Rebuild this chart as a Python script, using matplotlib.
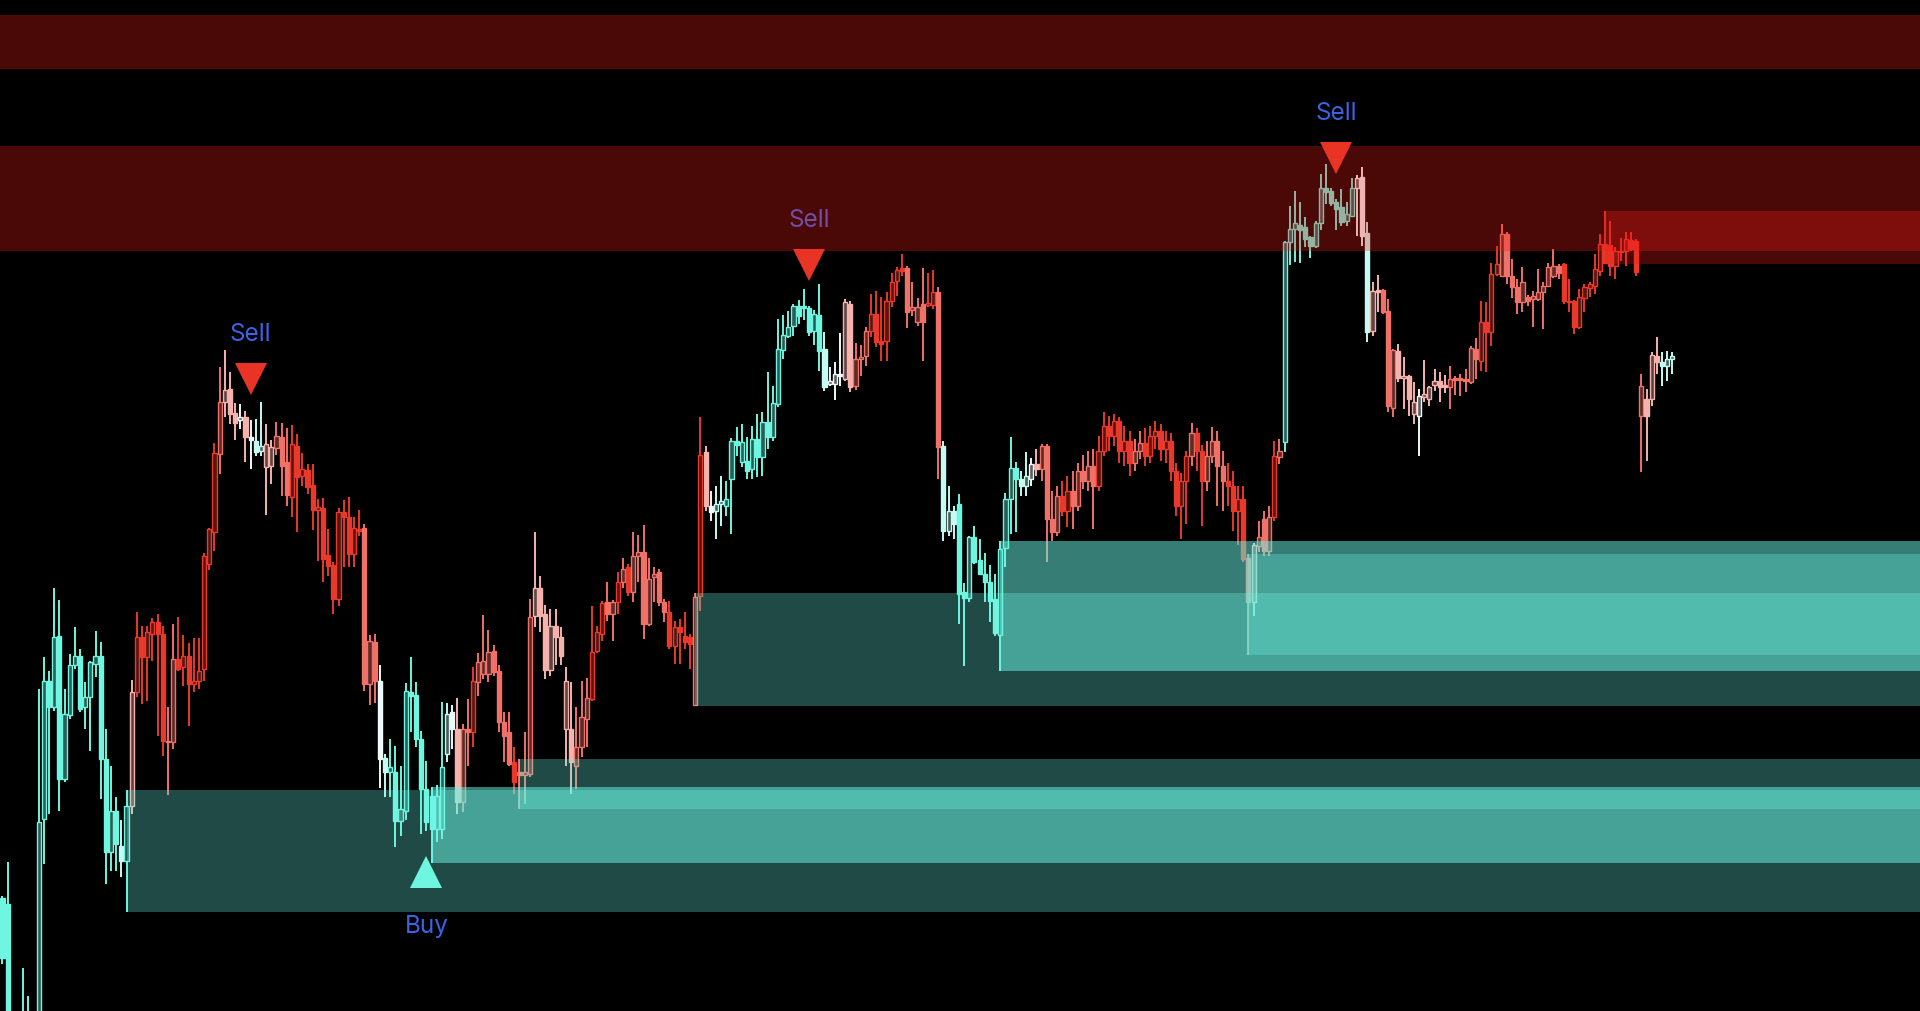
import matplotlib
matplotlib.use("Agg")
import matplotlib.pyplot as plt
from matplotlib.colors import LinearSegmentedColormap
from matplotlib.patches import Rectangle
import numpy as np

# OHLC per bar (chart points), oldest first
opens = [
    113, 107, -18, -45, -30, -5, -10, -15, 192, 330,
    304, 375, 232, 296, 346, 355, 304, 314, 347, 355,
    252, 159, 200, 165, 150, 205, 319, 374, 354, 377,
    389, 377, 270, 269, 352, 344, 355, 327, 330, 342,
    447, 479, 557, 609, 622, 598, 591, 594, 574, 570,
    560, 544, 545, 563, 574, 549, 514, 565, 535, 541,
    526, 501, 503, 456, 446, 412, 499, 494, 457, 482,
    483, 327, 369, 330, 253, 239, 239, 190, 200, 319,
    316, 272, 222, 215, 182, 182, 257, 299, 282, 209,
    282, 279, 329, 337, 337, 360, 340, 289, 279, 249,
    239, 236, 237, 395, 423, 397, 341, 385, 374, 282,
    282, 245, 264, 292, 312, 360, 377, 409, 397, 409,
    429, 444, 419, 455, 459, 387, 434, 439, 409, 399,
    365, 384, 375, 374, 306, 415, 559, 505, 500, 507,
    505, 532, 570, 549, 550, 542, 572, 554, 589, 574,
    607, 661, 675, 685, 705, 705, 703, 680, 696, 662,
    627, 627, 637, 632, 707, 625, 652, 655, 680, 697,
    670, 670, 710, 730, 743, 743, 701, 689, 707, 706,
    706, 719, 565, 480, 500, 507, 419, 413, 474, 451,
    437, 429, 412, 376, 463, 512, 543, 532, 525, 532,
    547, 542, 565, 492, 479, 515, 500, 520, 505, 540,
    530, 545, 525, 560, 585, 575, 590, 560, 570, 548,
    560, 568, 555, 575, 580, 562, 570, 540, 505, 530,
    555, 578, 560, 530, 555, 570, 545, 530, 525, 500,
    512, 453, 409, 465, 492, 460, 494, 554, 569, 769,
    782, 786, 784, 774, 765, 788, 823, 820, 809, 804,
    790, 795, 823, 834, 778, 680, 721, 721, 700, 603,
    660, 633, 635, 597, 595, 614, 612, 626, 630, 626,
    624, 633, 633, 632, 629, 662, 650, 689, 679, 737,
    735, 777, 735, 724, 709, 714, 712, 712, 719, 725,
    735, 745, 747, 710, 710, 684, 713, 723, 725, 740,
    767, 766, 745, 760, 760, 771, 770, 595, 612, 612,
    655, 649, 645, 652,
]
highs = [
    115, 149, -10, -20, 43, 15, 0, 322, 354, 340,
    423, 411, 322, 357, 384, 362, 329, 350, 380, 369,
    282, 245, 214, 191, 221, 331, 399, 385, 385, 393,
    397, 385, 304, 387, 394, 376, 368, 373, 373, 458,
    483, 568, 644, 661, 639, 608, 607, 600, 591, 592,
    609, 587, 571, 589, 588, 583, 586, 577, 558, 547,
    547, 512, 513, 482, 449, 503, 511, 514, 494, 501,
    487, 376, 377, 346, 257, 272, 265, 245, 328, 354,
    329, 280, 250, 224, 226, 309, 308, 306, 313, 287,
    312, 344, 358, 396, 381, 366, 346, 299, 299, 264,
    252, 279, 412, 479, 435, 406, 402, 402, 384, 344,
    329, 304, 330, 333, 405, 385, 410, 429, 411, 439,
    453, 447, 479, 476, 486, 453, 444, 442, 412, 410,
    390, 392, 399, 377, 418, 594, 565, 520, 525, 535,
    530, 573, 584, 587, 574, 585, 597, 599, 639, 625,
    692, 696, 700, 707, 711, 722, 705, 701, 727, 679,
    644, 649, 678, 712, 710, 668, 666, 684, 717, 720,
    714, 719, 738, 744, 757, 745, 729, 713, 743, 738,
    741, 724, 570, 525, 505, 517, 428, 475, 485, 472,
    458, 446, 437, 470, 518, 574, 549, 540, 559, 553,
    562, 567, 567, 520, 525, 530, 535, 540, 548, 556,
    560, 562, 575, 599, 595, 597, 594, 585, 580, 572,
    580, 583, 585, 590, 587, 580, 578, 548, 538, 560,
    588, 583, 566, 570, 584, 580, 560, 548, 540, 525,
    525, 457, 468, 490, 500, 505, 570, 572, 770, 805,
    820, 809, 794, 775, 790, 837, 847, 823, 812, 822,
    809, 833, 836, 844, 789, 729, 736, 722, 712, 662,
    667, 654, 636, 629, 622, 651, 625, 642, 639, 636,
    645, 635, 637, 642, 665, 673, 710, 709, 748, 765,
    787, 779, 752, 732, 744, 716, 720, 742, 729, 748,
    762, 747, 748, 732, 711, 722, 727, 729, 757, 777,
    800, 790, 764, 773, 779, 779, 772, 637, 622, 659,
    674, 659, 660, 659,
]
lows = [
    47, -38, -60, -70, -40, -30, -35, -25, 147, 197,
    300, 200, 229, 292, 342, 299, 282, 260, 334, 212,
    127, 140, 140, 134, 99, 197, 314, 307, 310, 350,
    275, 255, 216, 262, 340, 325, 285, 319, 322, 330,
    441, 460, 537, 594, 587, 571, 582, 549, 542, 555,
    555, 496, 527, 556, 515, 505, 494, 479, 525, 517,
    481, 450, 429, 435, 397, 405, 444, 444, 444, 475,
    320, 306, 308, 223, 214, 214, 164, 175, 191, 279,
    264, 177, 180, 148, 169, 172, 249, 262, 197, 199,
    245, 264, 315, 332, 329, 335, 279, 249, 245, 217,
    202, 207, 234, 384, 379, 332, 335, 346, 346, 245,
    217, 222, 254, 264, 310, 358, 370, 390, 370, 397,
    423, 415, 409, 429, 372, 385, 409, 405, 389, 362,
    347, 347, 362, 342, 305, 400, 500, 490, 472, 485,
    495, 477, 555, 544, 532, 532, 534, 535, 562, 570,
    604, 652, 673, 675, 687, 691, 675, 666, 640, 620,
    625, 611, 625, 630, 619, 621, 635, 645, 674, 664,
    650, 650, 704, 715, 735, 683, 695, 685, 650, 704,
    702, 532, 470, 475, 472, 387, 345, 409, 447, 436,
    409, 389, 375, 340, 444, 477, 479, 515, 515, 525,
    535, 530, 449, 470, 475, 495, 484, 482, 500, 522,
    520, 482, 520, 555, 560, 565, 548, 545, 535, 540,
    552, 545, 548, 562, 550, 548, 530, 495, 472, 487,
    545, 540, 485, 520, 548, 505, 500, 505, 480, 466,
    449, 356, 395, 459, 455, 455, 490, 547, 559, 746,
    749, 748, 764, 753, 763, 781, 807, 805, 781, 785,
    785, 794, 775, 765, 669, 675, 699, 697, 599, 594,
    629, 602, 595, 587, 555, 609, 605, 620, 609, 618,
    602, 616, 615, 619, 627, 632, 640, 639, 665, 735,
    734, 727, 713, 697, 699, 705, 684, 710, 682, 724,
    733, 732, 707, 699, 677, 682, 699, 714, 717, 735,
    747, 735, 732, 750, 745, 760, 735, 539, 550, 605,
    637, 625, 630, 637,
]
closes = [
    53, -18, -45, -30, -5, -10, -15, 189, 330, 304,
    374, 232, 297, 346, 355, 302, 314, 349, 355, 252,
    159, 200, 167, 150, 205, 319, 374, 354, 379, 389,
    377, 270, 269, 352, 342, 355, 327, 330, 340, 455,
    482, 558, 609, 621, 597, 588, 594, 574, 571, 559,
    565, 567, 564, 575, 545, 516, 567, 534, 542, 524,
    501, 504, 452, 445, 412, 499, 494, 457, 483, 480,
    327, 370, 330, 252, 239, 244, 190, 202, 320, 315,
    272, 222, 189, 182, 215, 244, 297, 282, 209, 282,
    279, 330, 349, 350, 359, 339, 289, 275, 247, 229,
    236, 239, 394, 423, 395, 341, 385, 374, 355, 330,
    249, 264, 294, 313, 359, 379, 408, 397, 409, 429,
    442, 419, 455, 459, 387, 432, 437, 409, 399, 365,
    384, 379, 369, 367, 414, 556, 505, 499, 507, 510,
    512, 570, 566, 569, 540, 572, 554, 589, 574, 608,
    662, 676, 684, 705, 695, 703, 679, 697, 660, 624,
    630, 637, 635, 709, 624, 652, 654, 680, 697, 669,
    667, 710, 729, 741, 740, 699, 704, 704, 689, 708,
    719, 564, 480, 500, 487, 417, 413, 474, 449, 437,
    429, 410, 378, 462, 512, 543, 532, 525, 535, 547,
    542, 565, 492, 479, 515, 500, 520, 505, 540, 530,
    545, 525, 560, 585, 575, 590, 560, 570, 548, 560,
    568, 555, 575, 580, 562, 570, 540, 505, 530, 555,
    578, 560, 530, 555, 570, 545, 530, 525, 500, 512,
    452, 409, 466, 474, 460, 494, 555, 560, 769, 782,
    788, 781, 772, 765, 788, 823, 819, 808, 802, 789,
    797, 823, 833, 775, 679, 720, 719, 699, 605, 661,
    633, 635, 612, 609, 615, 617, 624, 630, 624, 624,
    632, 631, 631, 630, 663, 652, 689, 679, 737, 747,
    777, 735, 724, 709, 729, 710, 715, 719, 725, 744,
    745, 738, 710, 709, 684, 714, 724, 727, 742, 767,
    748, 745, 760, 759, 772, 762, 739, 625, 595, 656,
    649, 645, 652, 655,
]
# trend oscillator per bar: -2 strong bull (cyan) .. 3 strong bear (red)
tones = [
    -2, -2, -2, -2, -2, -2, -2, -2, -2, -2,
    -2, -2, -2, -2, -2, -2, -2, -2, -2, -2,
    -2, -2, -2, -1, -2, 1, 3, 3, 3, 3,
    3, 3, 2, 2, 3, 3, 3, 3, 3, 3,
    3, 3, 2, 1, 1, 1, 0, 1, 0, -1,
    -1, 1, 1, 2, 2, 2, 3, 3, 3, 3,
    3, 3, 3, 3, 3, 3, 3, 3, 3, 3,
    2, 2, 2, 0, -1, -2, -2, -2, -2, -2,
    -2, -2, -2, -2, -2, -2, -1, 0, 1, 2,
    2, 3, 2, 2, 2, 2, 2, 2, 2, 3,
    2, 2, 2, 1, 1, 1, 1, 1, 1, 1,
    1, 2, 2, 2, 3, 3, 3, 2, 2, 3,
    2, 3, 2, 2, 2, 2, 2, 2, 2, 3,
    3, 3, 3, 3, 2, 3, 1, 0, -1, -1,
    -2, -2, -2, -2, -2, -2, -2, -2, -2, -2,
    -2, -2, -2, -2, -2, -2, -2, -2, -2, -1,
    0, 0, 0, 1, 1, 2, 2, 2, 3, 3,
    3, 3, 3, 3, 3, 2, 2, 2, 2, 3,
    3, 2, -1, -1, -1, -2, -2, -2, -2, -2,
    -2, -2, -2, -2, -2, -2, -2, -1, -1, 0,
    1, 2, 2, 2, 2, 3, 3, 2, 2, 2,
    2, 2, 3, 3, 3, 3, 3, 3, 3, 2,
    2, 3, 3, 3, 3, 3, 3, 3, 3, 3,
    2, 3, 3, 2, 2, 2, 2, 3, 3, 3,
    3, 2, 1, 2, 2, 2, 3, 2, -2, -2,
    -2, -2, -2, -2, -2, -2, -2, -2, -2, -2,
    -2, -2, 0, 0, -1, 1, 1, 2, 2, 2,
    1, 1, 1, 1, 0, 1, 1, 1, 1, 1,
    2, 2, 2, 2, 2, 2, 3, 3, 3, 3,
    2, 2, 2, 2, 2, 2, 2, 2, 2, 2,
    2, 2, 3, 3, 3, 3, 3, 3, 3, 3,
    3, 3, 3, 3, 3, 3, 3, 2, 1, 1,
    1, -1, -1, -1,
]

# order blocks: bar the zone comes from, stacked copies
demand_bars = [24, 83, 100, 134, 193, 241]
demand_layers = [1, 2, 1, 1, 2, 1]
supply_bars = [310]
supply_layers = [1]
# older supply zones that start left of the view (low, high)
old_supply = [(942, 996), (760, 865)]

signal_text = ["Sell", "Buy", "Sell", "Sell"]
signal_bar = [48, 82, 156, 258]
signal_price = [632, 139, 746, 853]

tone_cols = ["#6ff6e0", "#c4fbf2", "#eefaf8", "#f6b3ad", "#f07167", "#e8392b"]
cmap = LinearSegmentedColormap.from_list("tone", tone_cols)
teal = "#6cf8e6"
red = "#f01c18"
label_blue = "#3b63e6"

fig = plt.figure(figsize=(19.2, 10.12), dpi=100, facecolor="black")
ax = fig.add_axes([0, 0, 1, 1])
ax.set_facecolor("black")
ax.set_axis_off()
xmax = 370.9
ax.set_xlim(-0.48, xmax)
ax.set_ylim(0, 1012)

o = np.array(opens, float)
h = np.array(highs, float)
l = np.array(lows, float)
c = np.array(closes, float)
x = np.arange(len(c))
cols = [cmap((t + 2) / 5) for t in tones]

# wicks, then bodies (hollow when close > open)
ax.vlines(x, l, h, colors=cols, linewidth=1.4, zorder=2)
lo = np.minimum(o, c)
ht = np.maximum(np.abs(c - o), 1.5)
faces = []
for col, oo, cc in zip(cols, o, c):
    if cc > oo:
        faces.append((col[0] * 0.38, col[1] * 0.38, col[2] * 0.38, 1))
    else:
        faces.append(col)
ax.bar(x, ht, bottom=lo, width=0.8, color=faces, edgecolor=cols,
       linewidth=1.0, zorder=2.1)

# zones
for i, n in zip(demand_bars, demand_layers):
    for _ in range(n):
        ax.add_patch(Rectangle((i, l[i]), xmax - i, h[i] - l[i],
                               facecolor=teal, alpha=0.3, lw=0, zorder=3))
for i, n in zip(supply_bars, supply_layers):
    for _ in range(n):
        ax.add_patch(Rectangle((i, l[i]), xmax - i, h[i] - l[i],
                               facecolor=red, alpha=0.31, lw=0, zorder=3))
for lo_, hi_ in old_supply:
    ax.axhspan(lo_, hi_, facecolor=red, alpha=0.31, lw=0, zorder=3)

# signals
for txt, i, p in zip(signal_text, signal_bar, signal_price):
    if txt == "Buy":
        ax.plot(i, p, marker="^", ms=23, color="#6ff6e0", mew=0, zorder=4)
        off = -38.5
    else:
        ax.plot(i, p, marker="v", ms=23, color="#e93324", mew=0, zorder=4)
        off = 33
    ax.annotate(txt, (i, p), xytext=(0, off), textcoords="offset points",
                ha="center", va="center", color=label_blue, fontsize=17.5,
                family=["Inter", "DejaVu Sans"], zorder=1)

fig.savefig("out.png", dpi=100, facecolor="black")
